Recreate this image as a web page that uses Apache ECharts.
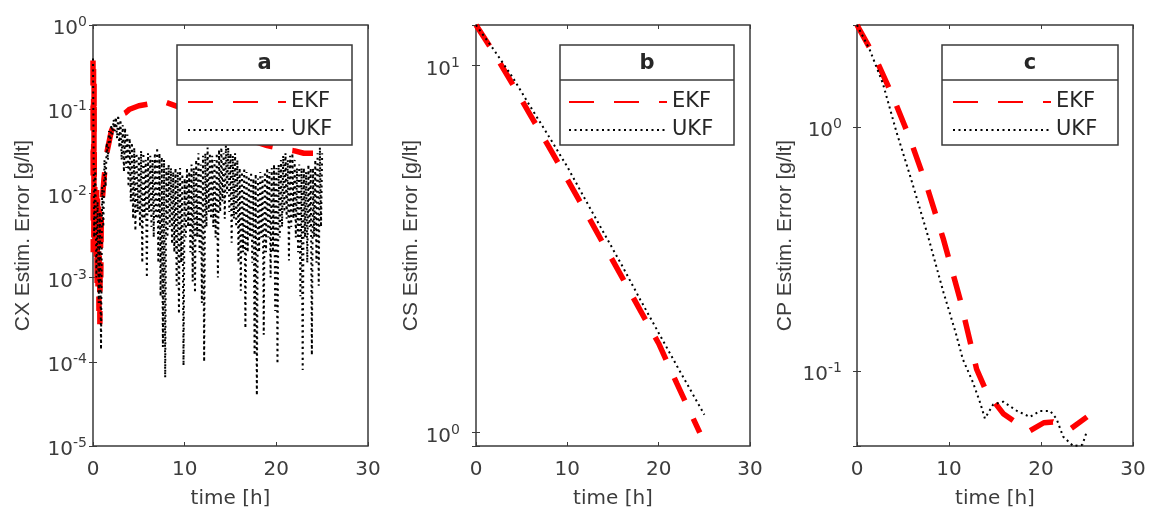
<!DOCTYPE html>
<html>
<head>
<meta charset="utf-8">
<title>Estimation error</title>
<script src="https://cdn.jsdelivr.net/npm/echarts@6/dist/echarts.min.js"></script>
<style>
  html, body { margin: 0; padding: 0; background: #fff; }
  #chart { width: 1149px; height: 509px; }
</style>
</head>
<body>
<div id="chart"></div>
<script>
// time axis (h)
var timeTicks = [0, 10, 20, 30];

// ---- panel a : CX ----
var cxRange = [1e-5, 1];
var cxEkfTime = [0, 0.03, 0.06, 0.09, 0.12, 0.15, 0.2, 0.25, 0.3, 0.35, 0.4, 0.45, 0.5, 0.55, 0.6, 0.65, 0.7, 0.75, 0.8, 0.85, 0.9,
  1.0, 1.2, 1.5, 2.0, 2.5, 3.0, 3.5, 4.0, 5, 6, 7, 8, 10, 12, 14, 16, 18, 19, 20, 21, 22, 23, 24];
var cxEkfError = [0.38, 0.002, 0.3, 0.003, 0.2, 0.004, 0.012, 0.002, 0.01, 0.0015, 0.011, 0.0008, 0.009, 0.0006, 0.008, 0.0004, 0.007, 0.00028, 0.006, 0.001, 0.005,
  0.008, 0.015, 0.03, 0.055, 0.075, 0.085, 0.09, 0.1, 0.11, 0.115, 0.125, 0.12, 0.1, 0.08, 0.062, 0.05, 0.04, 0.037, 0.035, 0.033, 0.032, 0.03, 0.03];
var cxUkfStep = 0.125; // sampling of the UKF trace, h
var cxUkfError = [
  0.4, 0.003, 0.02, 0.001, 0.008, 0.0005, 0.006, 0.00014,
  0.012, 0.004, 0.025, 0.012, 0.04, 0.025, 0.055, 0.04,
  0.065, 0.05, 0.075, 0.055, 0.08, 0.045, 0.085, 0.035,
  0.075, 0.025, 0.065, 0.018, 0.06, 0.02, 0.05, 0.012,
  0.045, 0.008, 0.04, 0.005, 0.035, 0.0036, 0.03, 0.006,
  0.028, 0.004, 0.032, 0.0015, 0.03, 0.005, 0.025, 0.001,
  0.03, 0.006, 0.028, 0.004, 0.025, 0.003, 0.03, 0.005,
  0.035, 0.0015, 0.03, 0.0006, 0.027, 0.00015, 0.025, 0.000065,
  0.02, 0.003, 0.022, 0.004, 0.02, 0.0025, 0.018, 0.002,
  0.02, 0.0008, 0.018, 0.00037, 0.02, 0.0015, 0.017, 0.00009,
  0.015, 0.003, 0.02, 0.004, 0.018, 0.002, 0.022, 0.0009,
  0.02, 0.00066, 0.025, 0.003, 0.03, 0.002, 0.022, 0.0005,
  0.028, 0.0001, 0.03, 0.004, 0.035, 0.006, 0.03, 0.005,
  0.028, 0.004, 0.025, 0.003, 0.03, 0.001, 0.033, 0.006,
  0.035, 0.008, 0.03, 0.005, 0.04, 0.01, 0.035, 0.006,
  0.03, 0.0026, 0.028, 0.005, 0.03, 0.004, 0.025, 0.0015,
  0.02, 0.0007, 0.018, 0.002, 0.02, 0.00025, 0.018, 0.002,
  0.016, 0.003, 0.018, 0.0015, 0.015, 0.00012, 0.017, 0.00004,
  0.015, 0.002, 0.018, 0.003, 0.016, 0.00021, 0.018, 0.002,
  0.02, 0.003, 0.018, 0.001, 0.02, 0.002, 0.022, 0.0004,
  0.02, 0.000095, 0.022, 0.003, 0.025, 0.004, 0.028, 0.006,
  0.03, 0.005, 0.025, 0.0016, 0.028, 0.004, 0.03, 0.005,
  0.025, 0.003, 0.02, 0.002, 0.022, 0.0006, 0.02, 0.00008,
  0.02, 0.003, 0.018, 0.0015, 0.022, 0.004, 0.02, 0.00012,
  0.02, 0.003, 0.025, 0.0015, 0.03, 0.0008, 0.035, 0.004,
  0.03
];

// ---- panel b : CS ----
var csRange = [0.92, 12.9];
var csEkfTime = [0, 2, 4, 6, 8, 10, 12, 14, 16, 18, 20, 22, 24.5];
var csEkfError = [12.9, 10.8, 8.9, 7.3, 6.0, 4.9, 4.0, 3.25, 2.65, 2.15, 1.75, 1.36, 1.0];
var csUkfTime = [0, 2, 4, 6, 8, 10, 12, 14, 16, 18, 20, 22, 25];
var csUkfError = [12.9, 11.0, 9.3, 7.7, 6.4, 5.3, 4.3, 3.5, 2.85, 2.3, 1.87, 1.52, 1.12];

// ---- panel c : CP ----
var cpRange = [0.0494, 2.61];
var cpEkfTime = [0, 2.1, 3.9, 5.8, 7.6, 9.4, 11.2, 13.0, 14.1, 15.9, 17.7, 18.8, 20.3, 21.3, 22.4, 23.2, 25];
var cpEkfError = [2.61, 1.88, 1.33, 0.885, 0.57, 0.346, 0.197, 0.102, 0.082, 0.067, 0.06, 0.057, 0.0615, 0.062, 0.0595, 0.058, 0.065];
var cpUkfTime = [0, 1.4, 2.8, 4.3, 5.8, 7.6, 9.4, 10.7, 11.5, 12.6, 13.4, 13.9, 14.8, 15.9, 17.4, 18.8, 19.9, 21.0, 21.7, 22.4, 23.5, 24.5, 25];
var cpUkfError = [2.61, 2.06, 1.51, 0.95, 0.625, 0.37, 0.21, 0.145, 0.112, 0.09, 0.074, 0.064, 0.073, 0.075, 0.0687, 0.065, 0.0687, 0.0687, 0.0637, 0.054, 0.0494, 0.05, 0.057];

var seriesNames = ['EKF', 'UKF'];
var panelTitles = ['a', 'b', 'c'];
var yNames = ['CX Estim. Error [g/lt]', 'CS Estim. Error [g/lt]', 'CP Estim. Error [g/lt]'];

var textColor = '#3c3c3c';
var boxColor = '#3a3a3a';
var hFont = 'DejaVu Sans';

function pairs(t, v) {
  return v.map(function (y, i) { return [t[i], y]; });
}
function stepPairs(step, v) {
  return v.map(function (y, i) { return [i * step, y]; });
}
// 10^n labels, other ticks left empty
function powLabel(value) {
  var l = Math.log10(value);
  var e = Math.round(l);
  if (Math.abs(l - e) > 1e-6) return '';
  return '{b|10}{s|' + e + '}';
}

// panel layout (px)
var grids = [
  { left: 93, top: 25, width: 275, height: 421 },
  { left: 476, top: 25, width: 274, height: 421 },
  { left: 857, top: 25, width: 276, height: 421 }
];
var ranges = [cxRange, csRange, cpRange];
var labelMargins = [6, 16, 15];
var nameGaps = [59, 53, 61];
var legendBoxes = [
  { x: 177, y: 45, w: 175, h: 100, icon: 187 },
  { x: 560, y: 45, w: 174, h: 100, icon: 568 },
  { x: 942, y: 45, w: 176, h: 100, icon: 952 }
];

var xAxes = [], yAxes = [], legends = [], graphics = [];
grids.forEach(function (g, i) {
  xAxes.push({
    type: 'value', gridIndex: i, min: 0, max: 30, interval: 10,
    name: 'time [h]', nameLocation: 'middle', nameGap: 43,
    nameTextStyle: { fontFamily: hFont, fontSize: 20, color: textColor },
    axisLine: { show: false },
    axisTick: { inside: true, length: 4, lineStyle: { color: boxColor } },
    axisLabel: { fontFamily: hFont, fontSize: 20, color: textColor, margin: 14 },
    splitLine: { show: false }
  });
  yAxes.push({
    type: 'log', logBase: 10, gridIndex: i, min: ranges[i][0], max: ranges[i][1],
    name: yNames[i], nameLocation: 'middle', nameGap: nameGaps[i],
    nameTextStyle: { fontFamily: 'Liberation Sans', fontSize: 21, color: textColor },
    axisLine: { show: false },
    axisTick: { inside: true, length: 4, lineStyle: { color: boxColor } },
    axisLabel: {
      margin: labelMargins[i], formatter: powLabel,
      rich: {
        b: { fontFamily: hFont, fontSize: 20, color: textColor, padding: [8, 0, 0, 0] },
        s: { fontFamily: hFont, fontSize: 14, color: textColor, padding: [0, 0, 5, 0] }
      }
    },
    splitLine: { show: false }
  });
  legends.push({
    left: legendBoxes[i].icon, top: 91, orient: 'vertical', padding: 0,
    data: seriesNames, itemWidth: 98, itemHeight: 14, itemGap: 6,
    selectedMode: false, z: 10,
    itemStyle: { opacity: 0 },
    textStyle: { fontFamily: hFont, fontSize: 21, color: '#262626', lineHeight: 22 }
  });
  var b = legendBoxes[i];
  graphics.push({
    type: 'rect', z: 5, shape: { x: b.x, y: b.y, width: b.w, height: b.h },
    style: { fill: '#fff', stroke: boxColor, lineWidth: 1.5 }
  }, {
    type: 'line', z: 6, shape: { x1: b.x, y1: b.y + 35, x2: b.x + b.w, y2: b.y + 35 },
    style: { stroke: boxColor, lineWidth: 1.5 }
  }, {
    type: 'text', z: 6, x: b.x + b.w / 2, y: b.y + 19,
    style: { text: panelTitles[i], font: 'bold 21px "DejaVu Sans"', fill: '#262626', align: 'center', verticalAlign: 'middle' }
  });
});
// mirrored ticks on top / right, like a boxed plot
grids.forEach(function (g, i) {
  xAxes.push({
    type: 'value', gridIndex: i, position: 'top', min: 0, max: 30, interval: 10,
    axisLine: { show: false }, axisLabel: { show: false }, splitLine: { show: false },
    axisTick: { inside: true, length: 4, lineStyle: { color: boxColor } }
  });
  yAxes.push({
    type: 'log', logBase: 10, gridIndex: i, position: 'right', min: ranges[i][0], max: ranges[i][1],
    axisLine: { show: false }, axisLabel: { show: false }, splitLine: { show: false },
    axisTick: { inside: true, length: 4, lineStyle: { color: boxColor } }
  });
});

var ekfStyle = { color: '#ff0000', width: 5.5, type: [25, 20] };
var ukfStyle = { color: '#000000', width: 2, type: [2, 3.5] };

function mkSeries(name, idx, data, style, z) {
  return {
    name: name, type: 'line', xAxisIndex: idx, yAxisIndex: idx, data: data,
    symbol: 'none', showSymbol: false, z: z, lineStyle: style, itemStyle: { color: style.color },
    emphasis: { disabled: true }
  };
}

var series = [
  mkSeries('EKF', 0, pairs(cxEkfTime, cxEkfError), ekfStyle, 2),
  mkSeries('UKF', 0, stepPairs(cxUkfStep, cxUkfError), ukfStyle, 3),
  mkSeries('EKF', 1, pairs(csEkfTime, csEkfError), ekfStyle, 2),
  mkSeries('UKF', 1, pairs(csUkfTime, csUkfError), ukfStyle, 3),
  mkSeries('EKF', 2, pairs(cpEkfTime, cpEkfError), ekfStyle, 2),
  mkSeries('UKF', 2, pairs(cpUkfTime, cpUkfError), ukfStyle, 3)
];

var myChart = echarts.init(document.getElementById('chart'));
myChart.setOption({
  animation: false,
  backgroundColor: '#fff',
  grid: grids.map(function (g) {
    return {
      left: g.left, top: g.top, width: g.width, height: g.height,
      show: true, borderColor: boxColor, borderWidth: 1.5, backgroundColor: 'transparent',
      outerBoundsMode: 'none'
    };
  }),
  xAxis: xAxes,
  yAxis: yAxes,
  legend: legends,
  graphic: graphics,
  series: series
});
</script>
</body>
</html>
